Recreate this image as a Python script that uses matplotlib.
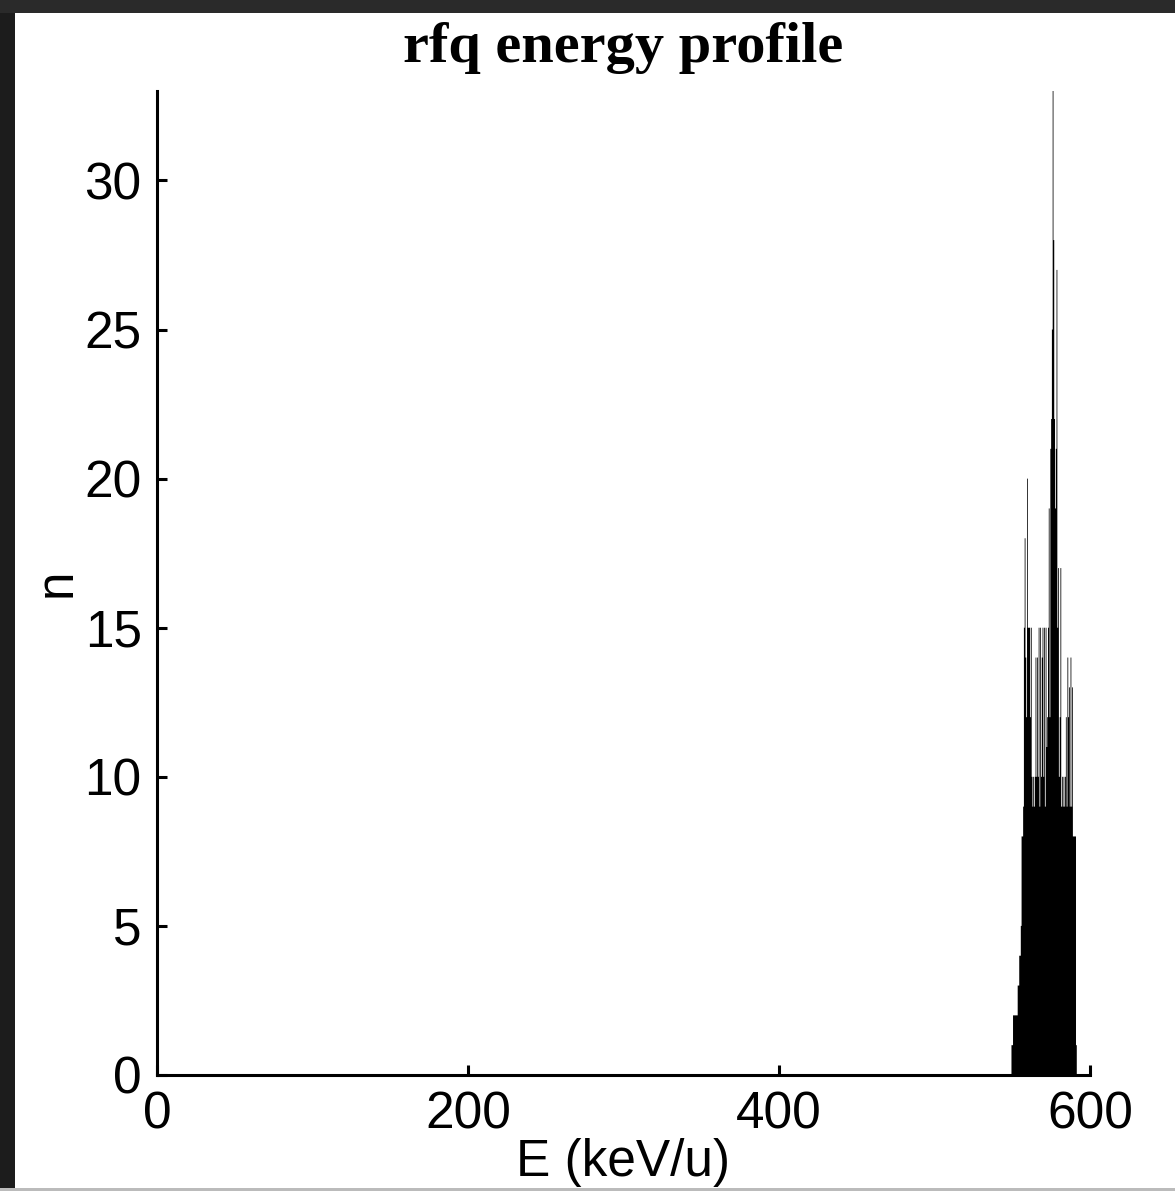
import numpy as np
import matplotlib
matplotlib.use("Agg")
import matplotlib.pyplot as plt
from matplotlib.patches import Rectangle

# ---- data ----
bin_left = [549.5 + 0.5 * i for i in range(85)]
counts = [
    1, 1, 2, 2, 2, 2, 2, 2, 3, 3,
    4, 4, 5, 8, 8, 9, 15, 18, 14, 12,
    20, 15, 15, 15, 12, 15, 10, 9, 10, 9,
    10, 14, 10, 14, 10, 15, 9, 15, 10, 14,
    15, 10, 15, 9, 15, 11, 12, 15, 19, 12,
    21, 22, 25, 33, 28, 22, 19, 21, 27, 15,
    17, 10, 12, 17, 9, 10, 9, 10, 9, 10,
    12, 9, 14, 12, 13, 9, 14, 9, 13, 8,
    8, 8, 8, 1, 0,
]
bin_width = 0.5
x_ticks = [0, 200, 400, 600]
y_ticks = [0, 5, 10, 15, 20, 25, 30]

W, H = 1175, 1191
fig = plt.figure(figsize=(W / 100, H / 100), dpi=100)
fig.patch.set_facecolor("white")

# dark frame at left and top
fig.patches.append(Rectangle((0, 0), 15 / W, 1, transform=fig.transFigure,
                             facecolor="#1c1c1c", edgecolor="none", zorder=0))
fig.patches.append(Rectangle((0, 1 - 13 / H), 1, 13 / H, transform=fig.transFigure,
                             facecolor="#2a2a2a", edgecolor="none", zorder=0))
fig.patches.append(Rectangle((0, 0), 1, 3 / H, transform=fig.transFigure,
                             facecolor="#bbbbbb", edgecolor="none", zorder=0))

ax = fig.add_axes([157 / W, (H - 1075) / H, (1090 - 157) / W, (1075 - 91) / H])
edges = np.array(bin_left + [bin_left[-1] + bin_width])
st = ax.stairs(counts, edges, fill=True, color="black", linewidth=0)
st.set_snap(False)

ax.set_xlim(0, 600)
ax.set_ylim(0, 33)
ax.set_xticks(x_ticks)
ax.set_yticks(y_ticks)

for s in ["top", "right"]:
    ax.spines[s].set_visible(False)
for s in ["left", "bottom"]:
    ax.spines[s].set_linewidth(2.2)

ax.tick_params(direction="in", length=7, width=2.2, labelsize=37, pad=11)
for lab in ax.get_xticklabels() + ax.get_yticklabels():
    lab.set_family(["Liberation Sans", "DejaVu Sans"])

ax.set_xlabel("E (keV/u)", fontsize=37, family=["Liberation Sans", "DejaVu Sans"],
              labelpad=-1)
ax.set_ylabel("n", fontsize=37, family=["Liberation Sans", "DejaVu Sans"],
              labelpad=2)
ax.set_title("rfq energy profile", fontsize=42, fontweight="bold",
             family=["Liberation Serif", "DejaVu Serif"], pad=21)

fig.savefig("out.png", dpi=100)
